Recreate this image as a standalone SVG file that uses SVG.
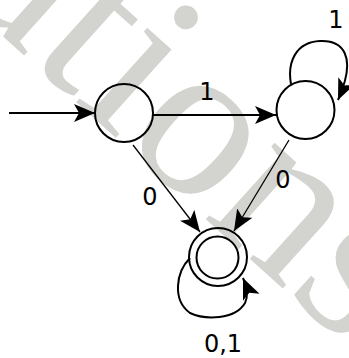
<svg xmlns="http://www.w3.org/2000/svg" width="349" height="358" viewBox="0 0 349 358">
<style>
.st{fill:none;stroke:#000;stroke-width:2}
.ln{fill:none;stroke:#000;stroke-width:2}
.thin{fill:none;stroke:#000;stroke-width:1.3}
.lbl{font-family:"DejaVu Sans",Verdana,sans-serif;font-size:24px;fill:#000;text-anchor:middle}
.wm{font-family:"Liberation Serif","Times New Roman",serif;font-size:224px;fill:#d3d3cf}
</style>
<defs>
<marker id="ah" markerUnits="userSpaceOnUse" markerWidth="22" markerHeight="20" refX="21" refY="9" orient="auto">
<path d="M0,0 L21,9 L0,18 L5,9 Z" fill="#000"/>
</marker>
</defs>
<rect width="349" height="358" fill="#fff"/>
<text class="wm" transform="translate(-47.5,-9.1) rotate(42)">ations</text>
<g id="connectors">
<line class="ln" x1="9" y1="113" x2="95" y2="113" marker-end="url(#ah)"/>
<line class="ln" x1="153" y1="115" x2="276" y2="115" marker-end="url(#ah)"/>
<line class="thin" x1="133" y1="145" x2="200" y2="232" marker-end="url(#ah)"/>
<line class="thin" x1="289" y1="140" x2="234" y2="231" marker-end="url(#ah)"/>
<path class="ln" d="M291,84 C287,62 296,42 320,41 C342,40 358,55 338,100" marker-end="url(#ah)"/>
<path class="ln" d="M190,258 C176,272 172,300 190,313 C205,320 235,320 245,303 C249,295 246,285 243,278" marker-end="url(#ah)"/>
<text class="lbl" x="207" y="100">1</text>
<text class="lbl" x="336" y="28">1</text>
<text class="lbl" x="150" y="205">0</text>
<text class="lbl" x="283" y="188">0</text>
<text class="lbl" x="223" y="352">0,1</text>
</g>
<g id="q0"><circle class="st" cx="124" cy="113" r="29"/></g>
<g id="q1"><circle class="st" cx="305.5" cy="110" r="29"/></g>
<g id="q2"><circle class="st" cx="218" cy="257" r="29"/><circle class="st" cx="217.5" cy="257.5" r="21"/></g>
</svg>
